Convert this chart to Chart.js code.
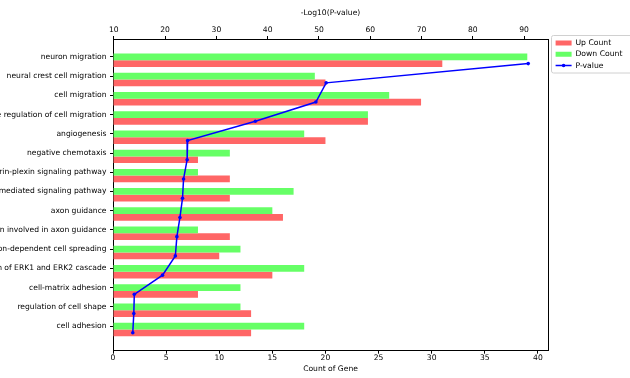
<!DOCTYPE html>
<html>
<head>
<meta charset="utf-8">
<script src="https://cdn.jsdelivr.net/npm/chart.js@4"></script>
<style>
  html, body { margin: 0; padding: 0; background: #fff; }
  #wrap { width: 630px; height: 378px; }
</style>
</head>
<body>
<div id="wrap"><canvas id="goChart"></canvas></div>
<script>
const terms = [
    'neuron migration',
    'neural crest cell migration',
    'cell migration',
    'positive regulation of cell migration',
    'angiogenesis',
    'negative chemotaxis',
    'semaphorin-plexin signaling pathway',
    'integrin-mediated signaling pathway',
    'axon guidance',
    'axon extension involved in axon guidance',
    'substrate adhesion-dependent cell spreading',
    'positive regulation of ERK1 and ERK2 cascade',
    'cell-matrix adhesion',
    'regulation of cell shape',
    'cell adhesion'
];
const upCount = [31, 20, 29, 24, 20, 8, 11, 11, 16, 11, 10, 15, 8, 13, 13];
const downCount = [39, 19, 26, 24, 18, 11, 8, 17, 15, 8, 12, 18, 12, 12, 18];
const pLog = [90.8, 51.4, 49.4, 37.6, 24.4, 24.3, 23.6, 23.4, 22.9, 22.3, 22.0, 19.5, 14.0, 13.9, 13.7];
const countTicks = [0, 5, 10, 15, 20, 25, 30, 35, 40];
const pTicks = [10, 20, 30, 40, 50, 60, 70, 80, 90];

Chart.defaults.font.family = 'DejaVu Sans';
Chart.defaults.font.size = 7.6;
Chart.defaults.color = '#000';

// matplotlib-like margins (5%) around the data
const maxCount = Math.max(...upCount, ...downCount);
const pMin = Math.min(...pLog), pMax = Math.max(...pLog);
const pPad = (pMax - pMin) * 0.05;

const toTicks = arr => arr.map(v => ({ value: v }));

// right spine, legend frame and the marker on the P-value legend line
const extras = {
    id: 'extras',
    beforeLayout(chart) {
        const lg = chart.legend;
        if (lg && !lg._fixedWidth) {
            const fit = lg.fit;
            lg.fit = function () { fit.call(this); this.width = 82; };
            lg._fixedWidth = true;
        }
    },
    afterLayout(chart) {
        const lg = chart.legend;
        lg.left = chart.chartArea.right + 4;
        lg.top = 35.5;
    },
    afterDraw(chart) {
        const ctx = chart.ctx;
        const a = chart.chartArea;
        ctx.save();
        ctx.strokeStyle = '#000';
        ctx.lineWidth = 1;
        ctx.beginPath();
        ctx.moveTo(a.right + 0.5, a.top);
        ctx.lineTo(a.right + 0.5, a.bottom);
        ctx.stroke();

        ctx.strokeStyle = '#d0d0d0';
        ctx.beginPath();
        ctx.roundRect(551.5, 35.5, 90, 37.5, 2);
        ctx.stroke();

        const hb = chart.legend.legendHitBoxes[2];
        if (hb) {
            ctx.fillStyle = '#0000ff';
            ctx.beginPath();
            ctx.arc(hb.left + 8, hb.top + hb.height / 2, 1.8, 0, Math.PI * 2);
            ctx.fill();
        }
        ctx.restore();
    }
};

new Chart(document.getElementById('goChart'), {
    type: 'bar',
    data: {
        datasets: [{
            label: 'Up Count',
            data: upCount.map((v, i) => ({ x: v, y: i + 0.175 })),
            backgroundColor: 'rgb(255, 102, 102)',
            borderWidth: 0,
            xAxisID: 'x',
            yAxisID: 'y',
            order: 2
        }, {
            label: 'Down Count',
            data: downCount.map((v, i) => ({ x: v, y: i + 0.175 })),
            backgroundColor: 'rgb(102, 255, 102)',
            borderWidth: 0,
            xAxisID: 'x',
            yAxisID: 'y',
            order: 1
        }, {
            type: 'line',
            label: 'P-value',
            data: pLog.map((v, i) => ({ x: v, y: i + 0.35 })),
            borderColor: '#0000ff',
            backgroundColor: '#0000ff',
            borderWidth: 1.5,
            pointRadius: 1.8,
            pointBorderWidth: 0,
            tension: 0,
            xAxisID: 'x2',
            yAxisID: 'y',
            order: 0
        }]
    },
    options: {
        indexAxis: 'y',
        responsive: true,
        maintainAspectRatio: false,
        animation: false,
        categoryPercentage: 0.7,
        barPercentage: 1.0,
        layout: { padding: 0 },
        plugins: {
            tooltip: { enabled: false },
            legend: {
                position: 'right',
                align: 'start',
                labels: {
                    usePointStyle: true,
                    pointStyleWidth: 16,
                    boxHeight: 5,
                    padding: 3.6,
                    font: { size: 7.7 },
                    sort: (a, b) => a.datasetIndex - b.datasetIndex,
                    generateLabels(chart) {
                        const items = Chart.defaults.plugins.legend.labels.generateLabels(chart);
                        return items.map(it => {
                            if (it.datasetIndex === 2) {
                                return { ...it, pointStyle: 'line', strokeStyle: '#0000ff', lineWidth: 1.5 };
                            }
                            return { ...it, pointStyle: 'rect', lineWidth: 0 };
                        });
                    }
                }
            }
        },
        scales: {
            x: {
                type: 'linear',
                position: 'bottom',
                min: 0,
                max: maxCount * 1.05,
                afterBuildTicks: s => { s.ticks = toTicks(countTicks); },
                afterFit: s => { s.height = 27.3; },
                ticks: { padding: 0 },
                grid: { drawOnChartArea: false, tickLength: 3, color: '#000' },
                border: { color: '#000' },
                title: { display: true, text: 'Count of Gene', padding: { top: 0, bottom: 4 } }
            },
            x2: {
                type: 'linear',
                axis: 'x',
                position: 'top',
                min: pMin - pPad,
                max: pMax + pPad,
                afterBuildTicks: s => { s.ticks = toTicks(pTicks); },
                afterFit: s => { s.height = 39; },
                ticks: { padding: 1 },
                grid: { drawOnChartArea: false, tickLength: 3, color: '#000' },
                border: { color: '#000' },
                title: { display: true, text: '-Log10(P-value)', padding: { top: 8, bottom: 0 } }
            },
            y: {
                type: 'linear',
                position: 'left',
                reverse: true,
                bounds: 'data',
                offset: false,
                min: -0.93,
                max: 15.28,
                afterBuildTicks: s => { s.ticks = toTicks(terms.map((t, i) => i)); },
                afterFit: s => { s.width = 113; },
                ticks: {
                    autoSkip: false,
                    padding: 3.5,
                    callback: v => terms[v]
                },
                grid: { offset: false, drawOnChartArea: false, tickLength: 3, color: '#000' },
                border: { color: '#000' }
            }
        }
    },
    plugins: [extras]
});
</script>
</body>
</html>
